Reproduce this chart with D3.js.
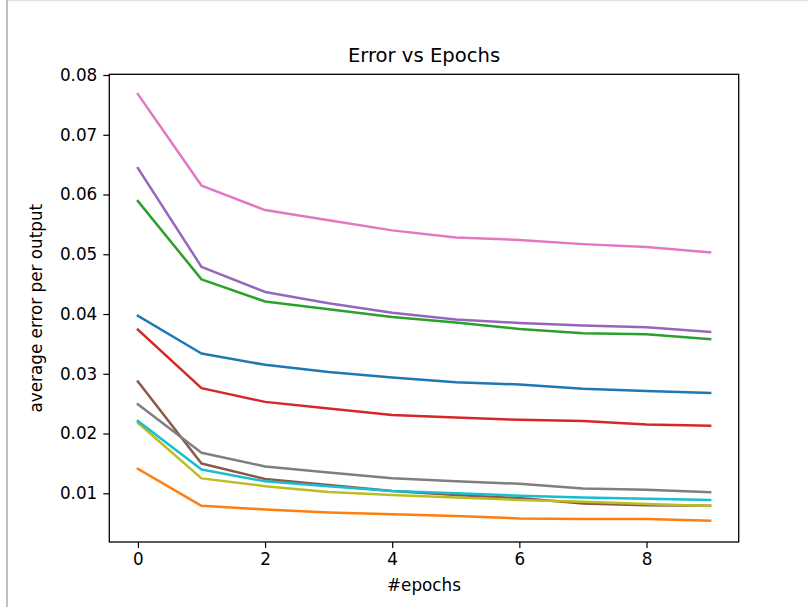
<!DOCTYPE html>
<html>
<head>
<meta charset="utf-8">
<script src="https://cdn.jsdelivr.net/npm/d3@7"></script>
<style>
  html, body { margin: 0; padding: 0; background: #fff; }
  svg { display: block; }
  text { font-family: "DejaVu Sans", sans-serif; fill: #000; }
</style>
</head>
<body>
<svg id="chart" width="808" height="612"></svg>
<script>
// Training error per output for each run, over 10 epochs
const epochs = [0, 1, 2, 3, 4, 5, 6, 7, 8, 9];
const runBlue   = [0.0397, 0.0334, 0.0315, 0.0303, 0.0294, 0.0286, 0.0282, 0.0275, 0.0271, 0.0268];
const runOrange = [0.0141, 0.0079, 0.0073, 0.0068, 0.0065, 0.0062, 0.0058, 0.0057, 0.0057, 0.0054];
const runGreen  = [0.0589, 0.0458, 0.0421, 0.0408, 0.0395, 0.0386, 0.0375, 0.0368, 0.0366, 0.0358];
const runRed    = [0.0374, 0.0276, 0.0253, 0.0242, 0.0231, 0.0227, 0.0223, 0.0221, 0.0215, 0.0213];
const runPurple = [0.0644, 0.0479, 0.0437, 0.0418, 0.0402, 0.0391, 0.0385, 0.0381, 0.0378, 0.0370];
const runBrown  = [0.0287, 0.0150, 0.0124, 0.0114, 0.0104, 0.0097, 0.0092, 0.0083, 0.0080, 0.0079];
const runPink   = [0.0768, 0.0615, 0.0574, 0.0557, 0.0540, 0.0528, 0.0524, 0.0517, 0.0512, 0.0503];
const runGray   = [0.0249, 0.0168, 0.0145, 0.0135, 0.0125, 0.0120, 0.0116, 0.0108, 0.0106, 0.0102];
const runOlive  = [0.0218, 0.0125, 0.0112, 0.0102, 0.0097, 0.0093, 0.0089, 0.0086, 0.0082, 0.0079];
const runCyan   = [0.0221, 0.0140, 0.0120, 0.0112, 0.0104, 0.0100, 0.0096, 0.0093, 0.0091, 0.0089];

const series = [runBlue, runOrange, runGreen, runRed, runPurple, runBrown, runPink, runGray, runOlive, runCyan];
const colors = ["#1f77b4", "#ff7f0e", "#2ca02c", "#d62728", "#9467bd",
                "#8c564b", "#e377c2", "#7f7f7f", "#bcbd22", "#17becf"];

const xTicks = [0, 2, 4, 6, 8];
const yTicks = [0.01, 0.02, 0.03, 0.04, 0.05, 0.06, 0.07, 0.08];

const svg = d3.select("#chart");

// output-cell frame
svg.append("line").attr("x1", 7).attr("x2", 808).attr("y1", 0.5).attr("y2", 0.5)
  .attr("stroke", "#e2e2e2").attr("stroke-width", 1.5);
svg.append("line").attr("x1", 7).attr("x2", 7).attr("y1", 0).attr("y2", 607)
  .attr("stroke", "#ababab").attr("stroke-width", 1.5);

const plotLeft = 109.3, plotRight = 738.7, plotTop = 74.3, plotBottom = 542;

const x = d3.scaleLinear().domain([-0.45, 9.45]).range([plotLeft, plotRight]);
const y = d3.scaleLinear().domain([0.001851, 0.08012]).range([plotBottom, plotTop]);

const line = d3.line().x((d, i) => x(epochs[i])).y(d => y(d));

const plot = svg.append("g");
series.forEach((vals, k) => {
  plot.append("path")
    .datum(vals)
    .attr("d", line)
    .attr("fill", "none")
    .attr("stroke", colors[k])
    .attr("stroke-width", 2.5)
    .attr("stroke-linejoin", "round")
    .attr("stroke-linecap", "square");
});

// axes
const xAxis = svg.append("g").attr("transform", `translate(0,${plotBottom})`)
  .call(d3.axisBottom(x).tickValues(xTicks).tickSize(6).tickPadding(5).tickFormat(d3.format("d")));
const yAxis = svg.append("g").attr("transform", `translate(${plotLeft},0)`)
  .call(d3.axisLeft(y).tickValues(yTicks).tickSize(6).tickPadding(6).tickFormat(d3.format(".2f")));

[xAxis, yAxis].forEach(g => {
  g.select(".domain").remove();
  g.selectAll(".tick line").attr("stroke", "#000").attr("stroke-width", 1.2);
  g.selectAll(".tick text").attr("fill", "#000").style("font-size", "16.8px")
    .style("font-family", "'DejaVu Sans', sans-serif");
});

// axes frame
svg.append("rect")
  .attr("x", plotLeft).attr("y", plotTop)
  .attr("width", plotRight - plotLeft).attr("height", plotBottom - plotTop)
  .attr("fill", "none").attr("stroke", "#000").attr("stroke-width", 1.3);

// titles
svg.append("text")
  .attr("x", (plotLeft + plotRight) / 2).attr("y", 62)
  .attr("text-anchor", "middle")
  .style("font-size", "19.6px")
  .text("Error vs Epochs");

svg.append("text")
  .attr("x", (plotLeft + plotRight) / 2).attr("y", 591)
  .attr("text-anchor", "middle")
  .style("font-size", "16.8px")
  .text("#epochs");

svg.append("text")
  .attr("transform", `translate(42,${(plotTop + plotBottom) / 2}) rotate(-90)`)
  .attr("text-anchor", "middle")
  .style("font-size", "16.8px")
  .text("average error per output");
</script>
</body>
</html>
